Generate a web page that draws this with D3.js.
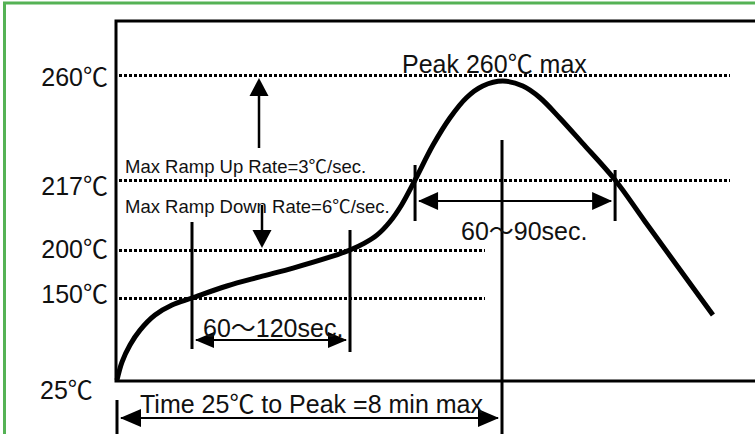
<!DOCTYPE html>
<html>
<head>
<meta charset="utf-8">
<script src="https://cdn.jsdelivr.net/npm/d3@7"></script>
<style>
  html, body { margin: 0; padding: 0; background: #fff; }
  text { font-family: 'Liberation Sans', Arial, 'Noto Sans CJK SC', sans-serif; fill: #111; }
</style>
</head>
<body>
<div class="vis-container"></div>
<script>
// Temperature ticks of the profile (schematic, not evenly spaced)
const tempTicks = [25, 150, 200, 217, 260];
const tempLabels = ['25℃', '150℃', '200℃', '217℃', '260℃'];

// Reflow profile: time (s) and temperature (℃)
const profileTime = [0, 6.2, 16.2, 28.7, 47.4, 68.6, 93.5, 137, 178, 219.5, 262, 290.5, 308, 324, 340, 355, 371.6, 394, 415, 436, 456, 481, 506, 527, 552, 580, 621, 658, 743];
const profileTemp = [25, 52.4, 78.4, 101, 124, 139.3, 150, 162.5, 172, 181.2, 191.7, 200, 201.6, 203.6, 206.8, 211, 217, 231.3, 242.4, 250.8, 255.5, 257.5, 255.5, 250.8, 242.4, 232.2, 217, 207, 124];

// Windows marked on the chart (s)
const soakWindow = [93.5, 290.5];     // 150℃ -> 200℃
const liquidusWindow = [371.6, 621];  // above 217℃
const peakTime = 480;                 // 8 min

const W = 755, H = 434;

const svg = d3
  .select('.vis-container')
  .append('svg')
  .attr('width', W)
  .attr('height', H);

const x = d3.scaleLinear().domain([0, peakTime]).range([117, 502]);
const y = d3.scaleLinear().domain(tempTicks).range([380, 298, 250, 180, 75]);

// green outer border
svg.append('path')
  .attr('d', `M4.5,${H} V3 H${W}`)
  .attr('fill', 'none')
  .attr('stroke', '#55b255')
  .attr('stroke-width', 3);

// frame
svg.append('path')
  .attr('d', `M${W},21 H${x(0) - 1} V381 H${W}`)
  .attr('fill', 'none')
  .attr('stroke', '#000')
  .attr('stroke-width', 3);

// dotted temperature lines
const lineEnd = { 260: 730, 217: 730, 200: 485, 150: 485 };
svg.append('g')
  .selectAll('line')
  .data(tempTicks.filter((d) => d !== 25))
  .join('line')
  .attr('x1', 119)
  .attr('x2', (d) => lineEnd[d])
  .attr('y1', (d) => y(d) + 0.5)
  .attr('y2', (d) => y(d) + 0.5)
  .attr('stroke', '#000')
  .attr('stroke-width', 3)
  .attr('stroke-dasharray', '3,2');

// tick labels
const labelDy = { 260: 11, 217: 15, 200: 8, 150: 5 };
svg.append('g')
  .selectAll('text')
  .data(tempTicks)
  .join('text')
  .attr('x', (d) => (d === 25 ? 40 : 108))
  .attr('y', (d) => (d === 25 ? 399 : y(d) + labelDy[d]))
  .attr('text-anchor', (d) => (d === 25 ? 'start' : 'end'))
  .attr('font-size', 25)
  .text((d, i) => tempLabels[i]);

// helpers
function vline(t, y1, y2, w) {
  svg.append('line')
    .attr('x1', x(t)).attr('x2', x(t))
    .attr('y1', y1).attr('y2', y2)
    .attr('stroke', '#000').attr('stroke-width', w || 3);
}

function arrowHead(tx, ty, dir, len, half) {
  let pts;
  if (dir === 'left') pts = [[tx, ty], [tx + len, ty - half], [tx + len, ty + half]];
  if (dir === 'right') pts = [[tx, ty], [tx - len, ty - half], [tx - len, ty + half]];
  if (dir === 'up') pts = [[tx, ty], [tx - half, ty + len], [tx + half, ty + len]];
  if (dir === 'down') pts = [[tx, ty], [tx - half, ty - len], [tx + half, ty - len]];
  svg.append('path').attr('d', 'M' + pts.join('L') + 'Z').attr('fill', '#000');
}

function hArrow(x1, x2, yy, len, half) {
  svg.append('line')
    .attr('x1', x1 + 4).attr('x2', x2 - 4)
    .attr('y1', yy).attr('y2', yy)
    .attr('stroke', '#000').attr('stroke-width', 2);
  arrowHead(x1 + 3, yy, 'left', len, half);
  arrowHead(x2 - 3, yy, 'right', len, half);
}

// soak window
vline(soakWindow[0], 222, 349);
vline(soakWindow[1], 230, 352);
hArrow(x(soakWindow[0]), x(soakWindow[1]), 340, 19, 8);

// liquidus window
vline(liquidusWindow[0], 165, 221);
vline(liquidusWindow[1], 170, 221);
hArrow(x(liquidusWindow[0]), x(liquidusWindow[1]), 201, 20, 9);

// peak line
vline(peakTime, 140, H);

// time to peak
vline(0, 400, H, 3);
hArrow(x(0), x(peakTime), 418, 21, 9);

// ramp arrows
svg.append('line').attr('x1', 259).attr('x2', 259).attr('y1', 148).attr('y2', 92)
  .attr('stroke', '#000').attr('stroke-width', 2.5);
arrowHead(259, y(260) + 3, 'up', 18, 9.5);
svg.append('line').attr('x1', 262).attr('x2', 262).attr('y1', 205).attr('y2', 233)
  .attr('stroke', '#000').attr('stroke-width', 2.5);
arrowHead(262, y(200) - 2, 'down', 18, 9.5);

// profile curve
const profile = profileTime.map((t, i) => ({ t, temp: profileTemp[i] }));
const line = d3
  .line()
  .curve(d3.curveCatmullRom)
  .x((d) => x(d.t))
  .y((d) => y(d.temp));

svg.append('path')
  .datum(profile)
  .attr('fill', 'none')
  .attr('stroke', '#000')
  .attr('stroke-width', 5)
  .attr('stroke-linecap', 'butt')
  .attr('stroke-linejoin', 'round')
  .attr('d', line);

// annotations
const notes = [
  { text: 'Peak 260℃ max', x: 402, y: 73, size: 25 },
  { text: 'Max Ramp Up Rate=3℃/sec.', x: 125, y: 173, size: 18.5 },
  { text: 'Max Ramp Down Rate=6℃/sec.', x: 125, y: 213, size: 18.5 },
  { text: '60～120sec.', x: 203, y: 337, size: 25 },
  { text: '60～90sec.', x: 461, y: 240, size: 25 },
  { text: 'Time 25℃ to Peak =8 min max', x: 140, y: 413, size: 25 }
];

svg.append('g')
  .selectAll('text')
  .data(notes)
  .join('text')
  .attr('x', (d) => d.x)
  .attr('y', (d) => d.y)
  .attr('font-size', (d) => d.size)
  .text((d) => d.text);
</script>
</body>
</html>
